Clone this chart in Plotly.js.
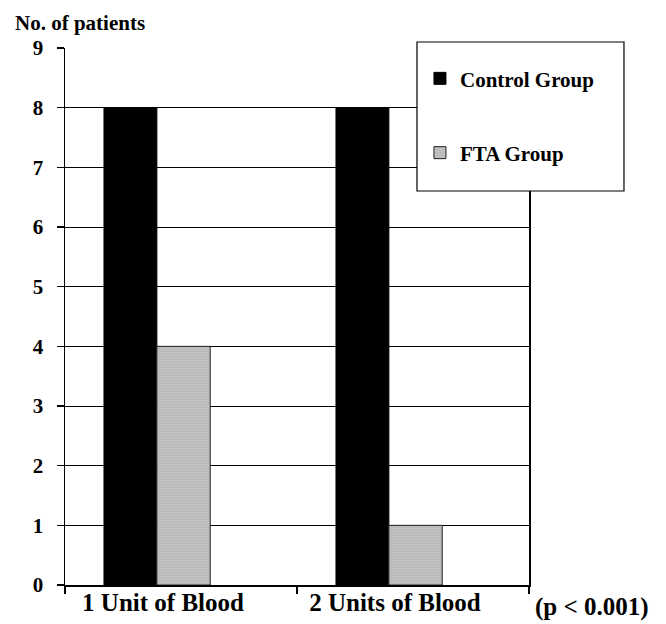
<!DOCTYPE html>
<html>
<head>
<meta charset="utf-8">
<script src="https://cdn.plot.ly/plotly-3.0.1.min.js"></script>
<style>html,body{margin:0;padding:0;background:#fff;}#chart{width:666px;height:624px;}</style>
</head>
<body>
<div id="chart"></div>
<script>
const categories = ["1 Unit of Blood", "2 Units of Blood"];
const controlGroup = [8, 8];
const ftaGroup = [4, 1];
const seriesNames = ["Control Group", "FTA Group"];
const yTicks = [0, 1, 2, 3, 4, 5, 6, 7, 8, 9];

const FONT = "Liberation Serif, Times New Roman, serif";

const traces = [
  {
    type: "bar", name: seriesNames[0], x: categories, y: controlGroup,
    width: 0.228, offset: -0.332,
    marker: {color: "#000000", line: {color: "#000000", width: 1}},
    legendgroup: "a", hoverinfo: "skip"
  },
  {
    type: "bar", name: seriesNames[1], x: categories, y: ftaGroup,
    width: 0.23, offset: -0.104,
    marker: {
      color: "#d4d4d4",
      line: {color: "#222222", width: 1},
      pattern: {shape: ".", fgcolor: "#666666", bgcolor: "#d8d8d8", size: 2, solidity: 0.3}
    },
    legendgroup: "b", hoverinfo: "skip"
  }
];

const layout = {
  width: 666, height: 624,
  margin: {l: 65, r: 137, t: 48, b: 39, pad: 0},
  paper_bgcolor: "#ffffff", plot_bgcolor: "#ffffff",
  font: {family: FONT, color: "#000000", size: 20, weight: 700},
  showlegend: true,
  legend: {
    x: 0.765, xanchor: "left", y: 0.981, yanchor: "top",
    bgcolor: "rgba(0,0,0,0)", borderwidth: 0,
    traceorder: "grouped", tracegroupgap: 44,
    font: {family: FONT, size: 21, color: "#000000", weight: 700}
  },
  xaxis: {
    type: "category", range: [-0.5, 1.5], fixedrange: true,
    showline: true, linecolor: "#000000", linewidth: 1.5,
    ticks: "outside", tickson: "boundaries", ticklen: 7, tickcolor: "#000000", tickwidth: 1.5,
    ticklabelshift: -18, ticklabelstandoff: -6,
    showgrid: false, zeroline: false,
    tickfont: {family: FONT, size: 25, color: "#000000", weight: 700}
  },
  yaxis: {
    range: [0, 9], tickvals: yTicks, fixedrange: true,
    showline: true, linecolor: "#000000", linewidth: 1.5, mirror: true,
    ticks: "outside", ticklen: 7, tickcolor: "#000000", tickwidth: 1.5,
    ticklabelstandoff: 9,
    showgrid: true, gridcolor: "#000000", gridwidth: 1,
    zeroline: false,
    tickfont: {family: FONT, size: 21, color: "#000000", weight: 700}
  },
  bargap: 0.3,
  shapes: [
    {type: "rect", xref: "paper", yref: "paper", x0: 0.7586, x1: 1.2047, y0: 0.7337, y1: 1.0112,
     line: {color: "#000000", width: 1.2}, fillcolor: "#ffffff", layer: "above"}
  ],
  annotations: [
    {text: "No. of patients", xref: "paper", yref: "paper", x: -0.112, y: 1.0466,
     xanchor: "left", yanchor: "middle", showarrow: false,
     font: {family: FONT, size: 21, color: "#000000", weight: 700}},
    {text: "(p < 0.001)", xref: "paper", yref: "paper", x: 1.0086, y: -0.041,
     xanchor: "left", yanchor: "middle", showarrow: false,
     font: {family: FONT, size: 25, color: "#000000", weight: 700}}
  ]
};

Plotly.newPlot("chart", traces, layout, {staticPlot: true, displayModeBar: false});
</script>
</body>
</html>
